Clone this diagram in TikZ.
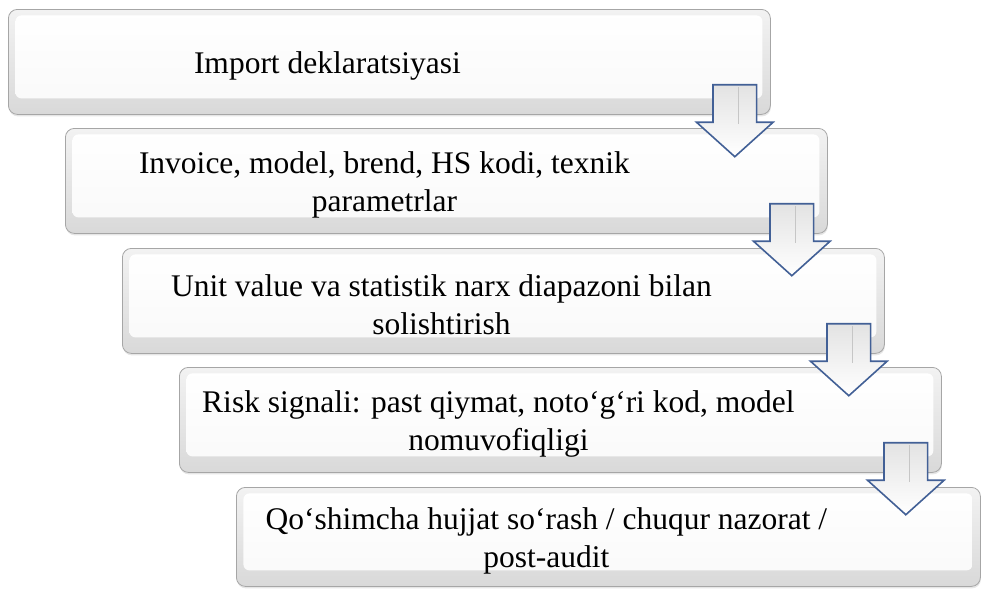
\documentclass[tikz,border=0pt]{standalone}
\usepackage{fontspec}
\setmainfont{Liberation Serif}
\usetikzlibrary{shapes.arrows,shadows}

\begin{document}
\begin{tikzpicture}[x=1pt,y=-1pt]
        \tikzstyle{stagebox}=[draw=gray!70, line width=0.8pt, rounded corners=9pt, anchor=north west, inner sep=0pt, minimum width=762pt, minimum height=105pt, top color=gray!10, bottom color=gray!30, drop shadow={opacity=0.2, shadow xshift=0.5pt, shadow yshift=-2pt}, path picture={\shade[top color=white, bottom color=gray!5, rounded corners=6pt] ([shift={(7pt,-6pt)}]path picture bounding box.north west) rectangle ([shift={(-8pt,16pt)}]path picture bounding box.south east);}]
        \tikzstyle{stagetext}=[font=\fontsize{31.5}{38}\selectfont, align=center, inner sep=0pt, xshift=-62pt, yshift=-4pt]
        \tikzstyle{downarrow}=[single arrow, rotate=-90, anchor=tip, draw={rgb,255:red,66;green,96;blue,150}, line width=1.6pt, top color=gray!22, bottom color=white, minimum height=72pt, inner xsep=0pt, inner ysep=21pt, single arrow head extend=16.5pt, single arrow tip angle=96]
        \useasboundingbox (0,0) rectangle (982,589);
        \node[stagebox] (b1) at (8,9) {};
        \node[stagebox] (b2) at (65,128) {};
        \node[stagebox] (b3) at (122,248) {};
        \node[stagebox] (b4) at (179,367) {};
        \node[stagebox, minimum width=744pt, minimum height=99pt] (b5) at (236,487) {};
        \node[stagetext] (t1) at (b1.center) {Import deklaratsiyasi};
        \node[stagetext] (t2) at (b2.center) {Invoice, model, brend, HS kodi, texnik\\parametrlar};
        \node[stagetext] (t3) at (b3.center) {Unit value va statistik narx diapazoni bilan\\solishtirish};
        \node[stagetext] (t4) at (b4.center) {Risk signali: past qiymat, noto‘g‘ri kod, model\\nomuvofiqligi};
        \node[stagetext] (t5) at (b5.center) {Qo‘shimcha hujjat so‘rash / chuqur nazorat /\\post-audit};
        % arrows between the stages
        \foreach \i in {1,...,4} {
            \node[downarrow] (a\i) at ([shift={(-36,43)}]b\i.south east) {};
            \draw[gray!45, line width=1pt] ([shift={(4,3)}]a\i.tail) -- ([shift={(4,40)}]a\i.tail);
        }
    \end{tikzpicture}
\end{document}
